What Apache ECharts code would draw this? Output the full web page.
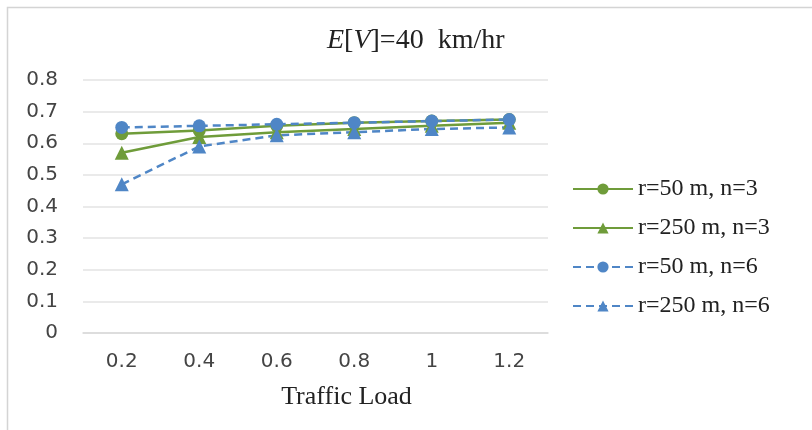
<!DOCTYPE html>
<html>
<head>
<meta charset="utf-8">
<script src="https://cdn.jsdelivr.net/npm/echarts@6/dist/echarts.min.js"></script>
<style>
  html, body { margin: 0; padding: 0; background: #fff; }
  #chart { width: 812px; height: 430px; }
</style>
</head>
<body>
<div id="chart"></div>
<script>
// Traffic load on the x axis
const trafficLoad = ['0.2', '0.4', '0.6', '0.8', '1', '1.2'];

// Series values
const r50n3 = [0.63, 0.64, 0.655, 0.665, 0.67, 0.675];
const r250n3 = [0.57, 0.62, 0.635, 0.645, 0.655, 0.665];
const r50n6 = [0.65, 0.655, 0.66, 0.665, 0.67, 0.675];
const r250n6 = [0.47, 0.59, 0.625, 0.635, 0.645, 0.65];

const seriesNames = ['r=50 m, n=3', 'r=250 m, n=3', 'r=50 m, n=6', 'r=250 m, n=6'];

const GREEN = '#6f9c3a';
const BLUE = '#4f86c6';
const serif = '"Liberation Serif", "DejaVu Serif", serif';
const sans = '"DejaVu Sans", "Open Sans", sans-serif';

function lineSeries(name, data, color, dashed, symbol) {
  return {
    name: name,
    type: 'line',
    data: data,
    symbol: symbol,
    symbolSize: symbol === 'circle' ? 13 : 14,
    lineStyle: { color: color, width: 2.5, type: dashed ? [8, 5] : 'solid' },
    itemStyle: { color: color },
    emphasis: { disabled: true }
  };
}

const chart = echarts.init(document.getElementById('chart'));
chart.setOption({
  animation: false,
  backgroundColor: '#fff',
  graphic: [{
    type: 'rect',
    shape: { x: 7.5, y: 7.5, width: 830, height: 440 },
    style: { fill: 'none', stroke: '#d4d4d4', lineWidth: 1.5 },
    silent: true
  }],
  title: {
    text: '{i|E}{n|[}{i|V}{n|]=40  km/hr}',
    left: 327,
    top: 27,
    padding: 0,
    textStyle: {
      rich: {
        i: { fontFamily: serif, fontStyle: 'italic', fontWeight: 'normal', fontSize: 28, color: '#222' },
        n: { fontFamily: serif, fontWeight: 'normal', fontSize: 28, color: '#222' }
      }
    }
  },
  legend: {
    data: seriesNames,
    orient: 'vertical',
    left: 572,
    top: 177,
    padding: 0,
    itemWidth: 60,
    itemHeight: 14,
    itemGap: 15,
    textStyle: { fontFamily: serif, fontSize: 24, color: '#222', padding: [0, 0, 0, 0] }
  },
  grid: { left: 83, right: 264, top: 80, bottom: 97 },
  xAxis: {
    type: 'category',
    data: trafficLoad,
    boundaryGap: true,
    axisLine: { lineStyle: { color: '#d9d9d9', width: 1.5 } },
    axisTick: { show: false },
    axisLabel: { fontFamily: sans, fontSize: 20, color: '#444', margin: 19 },
    name: 'Traffic Load',
    nameLocation: 'middle',
    nameGap: 51,
    nameTextStyle: { fontFamily: serif, fontSize: 26, color: '#222', padding: [0, 0, 0, 62] }
  },
  yAxis: {
    type: 'value',
    min: 0,
    max: 0.8,
    interval: 0.1,
    axisLine: { show: false },
    axisTick: { show: false },
    splitLine: { lineStyle: { color: '#e3e3e3', width: 1.5 } },
    axisLabel: { fontFamily: sans, fontSize: 20, color: '#444', margin: 25 }
  },
  series: [
    lineSeries(seriesNames[0], r50n3, GREEN, false, 'circle'),
    lineSeries(seriesNames[1], r250n3, GREEN, false, 'triangle'),
    lineSeries(seriesNames[2], r50n6, BLUE, true, 'circle'),
    lineSeries(seriesNames[3], r250n6, BLUE, true, 'triangle')
  ]
});
</script>
</body>
</html>
